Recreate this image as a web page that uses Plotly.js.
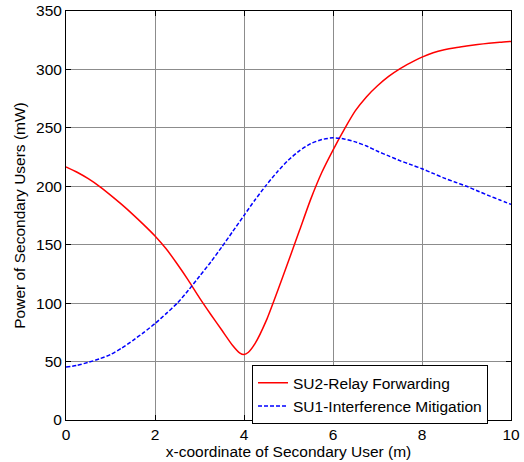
<!DOCTYPE html>
<html>
<head>
<meta charset="utf-8">
<script src="https://cdn.plot.ly/plotly-3.0.1.min.js"></script>
<style>html,body{margin:0;padding:0;background:#fff;}#chart{width:524px;height:462px;}</style>
</head>
<body>
<div id="chart"></div>
<script>
const redX = [0, 0.25, 0.5, 0.75, 1, 1.25, 1.5, 1.75, 2, 2.25, 2.5, 2.75, 3, 3.25, 3.5, 3.75, 3.9, 4, 4.1, 4.25, 4.5, 4.75, 5, 5.25, 5.5, 5.75, 6, 6.25, 6.5, 6.75, 7, 7.25, 7.5, 7.75, 8, 8.25, 8.5, 8.75, 9, 9.25, 9.5, 9.75, 10];
const redY = [216.6, 212, 206.5, 200, 192.5, 184.5, 176, 167, 157.5, 146.5, 133.5, 119.5, 104.5, 90.5, 77, 63.5, 57.5, 56, 58, 65.5, 85, 110, 136, 162.5, 189, 212, 231, 248.5, 264.5, 276.5, 286, 294, 300.5, 305.8, 310.5, 314.2, 316.8, 318.6, 320, 321.3, 322.4, 323.3, 324];
const blueX = [0, 0.25, 0.5, 0.75, 1, 1.25, 1.5, 1.75, 2, 2.25, 2.5, 2.75, 3, 3.25, 3.5, 3.75, 4, 4.25, 4.5, 4.75, 5, 5.25, 5.5, 5.75, 6, 6.25, 6.5, 6.75, 7, 7.25, 7.5, 7.75, 8, 8.25, 8.5, 8.75, 9, 9.25, 9.5, 9.75, 10];
const blueY = [45.3, 46.8, 49.3, 52.3, 56, 61.5, 68, 75, 82.5, 91, 100, 111, 123, 135, 148, 161.5, 175, 188.5, 201, 212.5, 222.5, 230.5, 236.5, 240, 241.5, 240.5, 238, 234.5, 230, 226, 222, 218.5, 215, 211, 207, 203.5, 200, 196, 192, 188.3, 184.5];
const redName = "SU2-Relay Forwarding";
const blueName = "SU1-Interference Mitigation";
const xTicks = [0, 2, 4, 6, 8, 10];
const yTicks = [0, 50, 100, 150, 200, 250, 300, 350];

const font = {family: "Liberation Sans, Arial, sans-serif", size: 15.5, color: "#000"};
const axisCommon = {
  showline: true, linecolor: "#000", linewidth: 1, mirror: "ticks",
  ticks: "inside", ticklen: 5, tickcolor: "#000",
  showgrid: true, gridcolor: "rgb(140,140,140)", gridwidth: 1,
  zeroline: false, tickfont: font
};
const data = [
  {x: redX, y: redY, name: redName, type: "scatter", mode: "lines",
   line: {color: "rgb(255,0,0)", width: 1.5, shape: "spline", smoothing: 0.6}},
  {x: blueX, y: blueY, name: blueName, type: "scatter", mode: "lines",
   line: {color: "rgb(0,0,255)", width: 1.5, dash: "4px,2px", shape: "spline", smoothing: 0.6}}
];
const layout = {
  width: 524, height: 462,
  margin: {l: 66, r: 13, t: 11, b: 42},
  paper_bgcolor: "#fff", plot_bgcolor: "#fff",
  font: font,
  showlegend: true,
  legend: {x: 0.418, y: 0.134, xanchor: "left", yanchor: "top",
           bgcolor: "#fff", bordercolor: "#000", borderwidth: 1,
           font: font, tracegroupgap: 0},
  xaxis: Object.assign({}, axisCommon, {range: [0, 10], tickvals: xTicks,
    title: {text: "x-coordinate of Secondary User (m)", font: font, standoff: 1}}),
  yaxis: Object.assign({}, axisCommon, {range: [0, 350], tickvals: yTicks,
    title: {text: "Power of Secondary Users (mW)", font: font, standoff: 6}})
};
Plotly.newPlot("chart", data, layout, {displayModeBar: false, staticPlot: true});
</script>
</body>
</html>
